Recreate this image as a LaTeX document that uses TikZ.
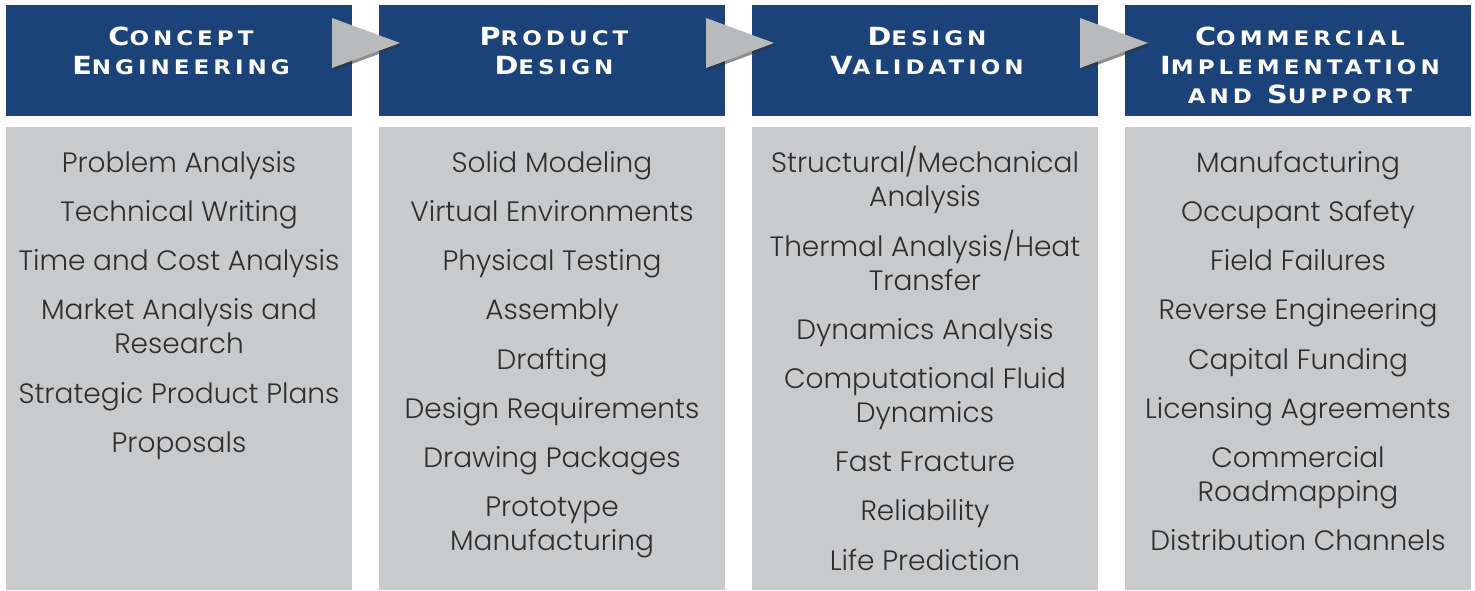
\documentclass[tikz,border=0pt]{standalone}
\usepackage{fontspec}
\setmainfont{Poppins Light}
\newfontfamily\hdfont{DejaVu Sans}[LetterSpace=20,FakeStretch=1.15]
\usetikzlibrary{positioning,shadows}
\definecolor{hdblue}{HTML}{1B4379}
\definecolor{bodygray}{HTML}{C9CACC}
\definecolor{arrgray}{HTML}{B9BABC}
\definecolor{txtgray}{HTML}{2E2E2E}
\newcommand\hcap[2]{{\fontsize{25}{29}\selectfont #1}{\fontsize{20}{29}\selectfont #2}}
\newcommand\hsm[1]{{\fontsize{20}{29}\selectfont #1}}
\newcommand\lst{\rule[-8pt]{0pt}{34pt}}
\tikzset{
  hbox/.style={rectangle, fill=hdblue, minimum width=346pt, minimum height=111pt, inner sep=0pt},
  bbox/.style={rectangle, fill=bodygray, minimum width=346pt, minimum height=463pt, inner sep=0pt},
  htext/.style={anchor=north, inner sep=0pt, align=center, text=white, font=\hdfont\bfseries\fontsize{25}{29}\selectfont},
  item/.style={inner sep=0pt, align=center, text=txtgray, font=\fontsize{28}{34}\selectfont},
  firstitem/.style={item, anchor=north},
  arr/.style={fill=arrgray, drop shadow={shadow xshift=2pt, shadow yshift=-2.5pt, opacity=0.55, fill=black!80}},
}
\begin{document}
\begin{tikzpicture}[x=1pt, y=-1pt, node distance=14.8pt]
\useasboundingbox (0,0) rectangle (1475,590);
\fill[white] (0,0) rectangle (1475,590);
% header boxes
\node[hbox] (h1) at (179,60.5) {};
\node[hbox] (h2) at (552,60.5) {};
\node[hbox] (h3) at (925,60.5) {};
\node[hbox] (h4) at (1298,60.5) {};
% body boxes
\node[bbox] (b1) at (179,358.5) {};
\node[bbox] (b2) at (552,358.5) {};
\node[bbox] (b3) at (925,358.5) {};
\node[bbox] (b4) at (1298,358.5) {};
% arrows
\fill[arr] (332,18) -- (400,43) -- (332,68) -- cycle;
\fill[arr] (706,18) -- (774,43) -- (706,68) -- cycle;
\fill[arr] (1080,18) -- (1148,43) -- (1080,68) -- cycle;
% header titles
\node[htext] (t1) at ([xshift=2pt,yshift=-20pt]h1.north) {\strut\hcap{C}{ONCEPT}\\\hcap{E}{NGINEERING}};
\node[htext] (t2) at ([xshift=2pt,yshift=-20pt]h2.north) {\strut\hcap{P}{RODUCT}\\\hcap{D}{ESIGN}};
\node[htext] (t3) at ([xshift=2pt,yshift=-20pt]h3.north) {\strut\hcap{D}{ESIGN}\\\hcap{V}{ALIDATION}};
\node[htext] (t4) at ([xshift=2pt,yshift=-20pt]h4.north) {\strut\hcap{C}{OMMERCIAL}\\\hcap{I}{MPLEMENTATION}\\\hsm{AND} \hcap{S}{UPPORT}};
% column 1
\node[firstitem] (a1) at (179,146) {\lst Problem Analysis};
\node[item, below=of a1] (a2) {\lst Technical Writing};
\node[item, below=of a2] (a3) {\lst Time and Cost Analysis};
\node[item, below=of a3] (a4) {\lst Market Analysis and\\\lst Research};
\node[item, below=of a4] (a5) {\lst Strategic Product Plans};
\node[item, below=of a5] (a6) {\lst Proposals};
% column 2
\node[firstitem] (p1) at (552,146) {\lst Solid Modeling};
\node[item, below=of p1] (p2) {\lst Virtual Environments};
\node[item, below=of p2] (p3) {\lst Physical Testing};
\node[item, below=of p3] (p4) {\lst Assembly};
\node[item, below=of p4] (p5) {\lst Drafting};
\node[item, below=of p5] (p6) {\lst Design Requirements};
\node[item, below=of p6] (p7) {\lst Drawing Packages};
\node[item, below=of p7] (p8) {\lst Prototype\\\lst Manufacturing};
% column 3
\node[firstitem] (v1) at (925,146) {\lst Structural/Mechanical\\\lst Analysis};
\node[item, below=of v1] (v2) {\lst Thermal Analysis/Heat\\\lst Transfer};
\node[item, below=of v2] (v3) {\lst Dynamics Analysis};
\node[item, below=of v3] (v4) {\lst Computational Fluid\\\lst Dynamics};
\node[item, below=of v4] (v5) {\lst Fast Fracture};
\node[item, below=of v5] (v6) {\lst Reliability};
\node[item, below=of v6] (v7) {\lst Life Prediction};
% column 4
\node[firstitem] (c1) at (1298,146) {\lst Manufacturing};
\node[item, below=of c1] (c2) {\lst Occupant Safety};
\node[item, below=of c2] (c3) {\lst Field Failures};
\node[item, below=of c3] (c4) {\lst Reverse Engineering};
\node[item, below=of c4] (c5) {\lst Capital Funding};
\node[item, below=of c5] (c6) {\lst Licensing Agreements};
\node[item, below=of c6] (c7) {\lst Commercial\\\lst Roadmapping};
\node[item, below=of c7] (c8) {\lst Distribution Channels};
\end{tikzpicture}
\end{document}
